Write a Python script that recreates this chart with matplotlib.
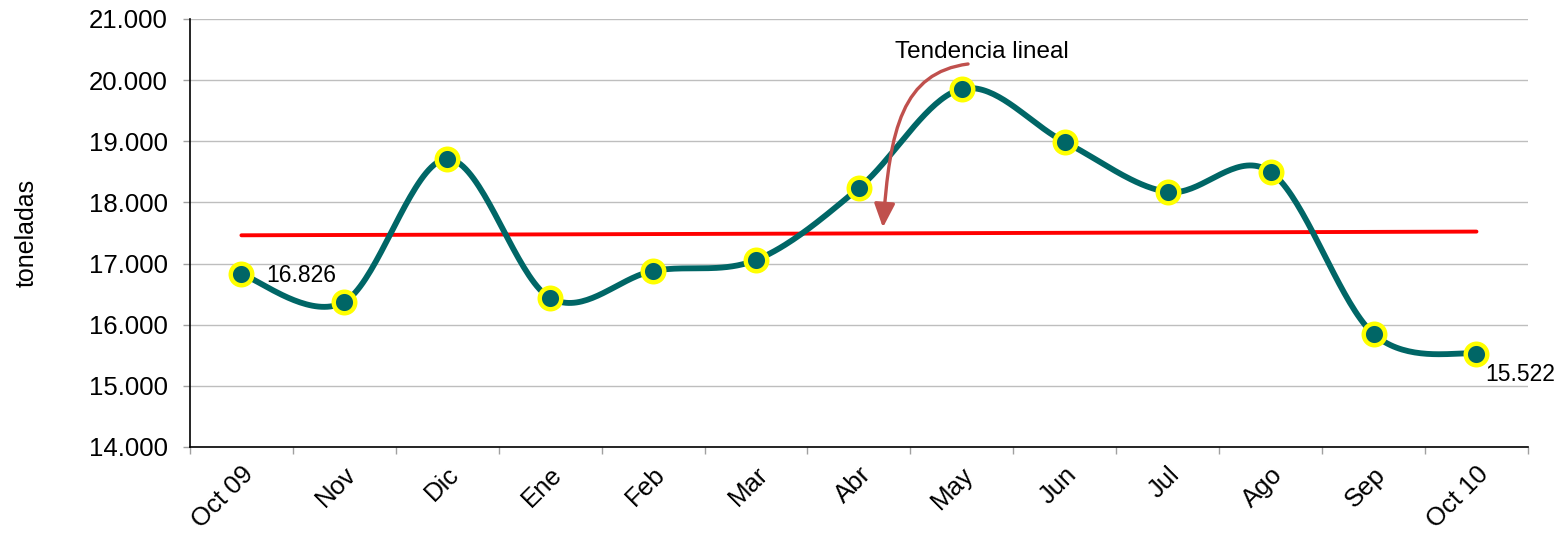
import numpy as np
import matplotlib.pyplot as plt
from matplotlib.patches import FancyArrowPatch
from matplotlib.path import Path
from matplotlib.ticker import FuncFormatter, MultipleLocator
from matplotlib.transforms import ScaledTranslation

plt.rcParams["font.family"] = ["Liberation Sans", "DejaVu Sans"]

# monthly tonnes, Oct 09 .. Oct 10
months = ["Oct 09", "Nov", "Dic", "Ene", "Feb", "Mar", "Abr",
          "May", "Jun", "Jul", "Ago", "Sep", "Oct 10"]
tons = [16826, 16373, 18710, 16437, 16879, 17059, 18236,
        19855, 18988, 18171, 18498, 15848, 15522]

TEAL = "#006666"
ARROW_RED = "#C0504D"


def smooth_pixels(px, py, n=40):
    """Excel-like smoothed line: Catmull-Rom as cubic bezier, in screen space"""
    pts = np.column_stack([px, py])
    pts = np.vstack([pts[0], pts, pts[-1]])
    out = []
    for i in range(1, len(pts) - 2):
        p0, p1, p2, p3 = pts[i - 1], pts[i], pts[i + 1], pts[i + 2]
        c1 = p1 + (p2 - p0) / 6
        c2 = p2 - (p3 - p1) / 6
        t = np.linspace(0, 1, n)[:, None]
        seg = ((1 - t) ** 3) * p1 + 3 * ((1 - t) ** 2) * t * c1 \
            + 3 * (1 - t) * t ** 2 * c2 + t ** 3 * p2
        out.append(seg if i == 1 else seg[1:])
    return np.vstack(out)


fig, ax = plt.subplots(figsize=(15.66, 5.41), dpi=100)
fig.subplots_adjust(left=0.1213, right=0.9757, top=0.9649, bottom=0.1738)

x = np.arange(len(months))
ax.set_xlim(-0.5, len(months) - 0.5)
ax.set_ylim(14000, 21000)

# smoothed series
disp = ax.transData.transform(np.column_stack([x, tons]))
curve = ax.transData.inverted().transform(smooth_pixels(disp[:, 0], disp[:, 1]))
ax.plot(curve[:, 0], curve[:, 1], color=TEAL, lw=4.2, solid_capstyle="round", zorder=3)
ax.plot(x, tons, ls="none", marker="o", ms=15.5, mfc=TEAL, mec="#FFFF00",
        mew=3.2, zorder=4)

# linear trend
slope, icpt = np.polyfit(x, tons, 1)
ax.plot(x, slope * x + icpt, color="#FF0000", lw=2.8, solid_capstyle="round", zorder=2)

# end labels
fmt = lambda v: f"{v:,.0f}".replace(",", ".")
ax.annotate(fmt(tons[0]), (x[0], tons[0]), xytext=(18, -1), textcoords="offset points",
            ha="left", va="center", fontsize=16.5, zorder=5)
ax.annotate(fmt(tons[-1]), (x[-1], tons[-1]), xytext=(6, -15), textcoords="offset points",
            ha="left", va="center", fontsize=16.5, zorder=5)

# trend callout
ax.text(6.35, 20460, "Tendencia lineal", fontsize=17.5, ha="left", va="center")
arrow_path = Path([(7.06, 20264), (6.42, 20120), (6.30, 19200), (6.233, 17590)],
                  [Path.MOVETO, Path.CURVE4, Path.CURVE4, Path.CURVE4])
arrow = FancyArrowPatch(path=arrow_path,
                        arrowstyle="-|>,head_length=0.8,head_width=0.35",
                        mutation_scale=18, color=ARROW_RED, lw=2.4, zorder=6)
ax.add_patch(arrow)

# axes styling
ax.yaxis.set_major_locator(MultipleLocator(1000))
ax.yaxis.set_major_formatter(FuncFormatter(lambda v, _: fmt(v)))
ax.grid(axis="y", color="#BEBEBE", lw=1)
ax.set_axisbelow(True)
for side in ["top", "right"]:
    ax.spines[side].set_visible(False)
for side in ["left", "bottom"]:
    ax.spines[side].set_color("black")
    ax.spines[side].set_linewidth(1.2)

ax.set_xticks(x)
ax.set_xticklabels(months, rotation=45, ha="right", va="center", rotation_mode="anchor")
ax.set_xticks(np.arange(-0.5, len(months)), minor=True)
ax.tick_params(axis="x", which="major", length=0, pad=17, labelsize=18.5)
ax.tick_params(axis="x", which="minor", length=5, color="#A0A0A0", width=1)
ax.tick_params(axis="y", length=5, color="#A0A0A0", width=1, pad=11, labelsize=18.5)
shift = ScaledTranslation(8 / 100, 0, fig.dpi_scale_trans)
for lbl in ax.get_xticklabels():
    lbl.set_transform(lbl.get_transform() + shift)

ax.set_ylabel("toneladas", fontsize=18, labelpad=36)

fig.savefig("out.png", dpi=100)
